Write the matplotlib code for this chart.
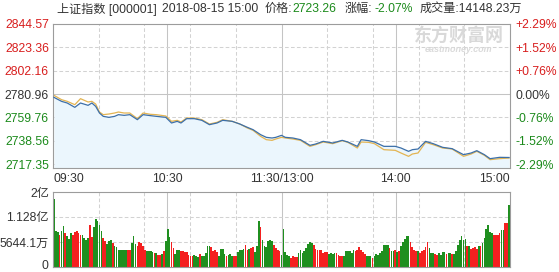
import matplotlib
matplotlib.use("Agg")
import matplotlib.pyplot as plt
import matplotlib.transforms as mtransforms
import numpy as np

# intraday chart, Shanghai Composite 2018-08-15
FONT = ['Liberation Sans', 'Noto Sans CJK SC']
plt.rcParams['font.family'] = FONT

prev_close = 2780.96
last_price = 2723.26
total_volume = '14148.23万'
price_ticks = [2844.57, 2823.36, 2802.16, 2780.96, 2759.76, 2738.56, 2717.35]
time_labels = ['09:30', '10:30', '11:30/13:00', '14:00', '15:00']

# minute index (0 = 09:30, 120 = 11:30/13:00, 240 = 15:00)
line_minutes = [0, 4, 7, 11, 14, 18, 20, 22, 24, 26,
                29, 32, 34, 37, 40, 44, 47, 51, 54, 59,
                62, 65, 67, 70, 74, 78, 82, 86, 89, 94,
                98, 102, 105, 109, 112, 115, 117, 120, 122, 126,
                130, 135, 138, 142, 147, 152, 155, 160, 162, 166,
                169, 174, 180, 183, 187, 189, 192, 196, 200, 205,
                210, 216, 220, 223, 227, 230, 235, 240]
price = [2777.93, 2774.29, 2772.78, 2768.84, 2772.78, 2770.66, 2772.78, 2769.75, 2763.69, 2760.66,
         2759.75, 2760.66, 2762.18, 2761.57, 2762.18, 2757.63, 2762.18, 2761.27, 2760.66, 2759.75,
         2754.61, 2756.12, 2754.61, 2758.54, 2758.54, 2757.03, 2753.09, 2754.61, 2757.03, 2756.12,
         2753.70, 2750.67, 2748.55, 2744.00, 2741.58, 2740.98, 2741.58, 2743.39, 2741.58, 2740.98,
         2739.46, 2734.31, 2735.52, 2737.95, 2736.43, 2738.85, 2737.34, 2733.40, 2739.46, 2738.55,
         2737.34, 2733.40, 2733.40, 2731.89, 2728.86, 2730.37, 2730.98, 2737.95, 2735.83, 2732.49,
         2731.28, 2725.83, 2727.35, 2729.46, 2725.83, 2722.20, 2723.41, 2723.26]
avg_price = [2779.75, 2775.81, 2774.29, 2771.26, 2776.72, 2773.69, 2774.29, 2771.87, 2764.60, 2762.18,
             2762.78, 2763.69, 2764.60, 2763.69, 2763.69, 2758.54, 2763.69, 2762.48, 2762.18, 2760.97,
             2756.12, 2757.03, 2755.51, 2759.15, 2759.15, 2757.63, 2753.70, 2755.21, 2757.63, 2756.12,
             2753.70, 2750.06, 2747.94, 2742.49, 2739.46, 2738.85, 2740.07, 2741.58, 2740.98, 2740.07,
             2738.85, 2733.40, 2734.92, 2737.34, 2735.83, 2738.55, 2737.04, 2731.89, 2737.34, 2737.04,
             2735.83, 2730.37, 2729.77, 2727.35, 2724.32, 2726.43, 2727.35, 2737.04, 2734.92, 2731.89,
             2730.98, 2724.32, 2726.43, 2728.86, 2725.22, 2721.29, 2722.20, 2722.80]

# per-minute volume (万), morning 121 bars, afternoon 120 bars
vol_am = [15361, 8057, 7831, 7304, 8208, 9337, 7681, 7078, 6401, 7681,
          7304, 7831, 8208, 7681, 7304, 7154, 6551, 6175, 6551, 9413,
          6777, 8961, 10919, 10316, 9563, 8208, 6551, 5798, 5196, 5798,
          6175, 5422, 4669, 4443, 3916, 3765, 3765, 3765, 3765, 3765,
          3765,
          5422, 7078, 5196, 4669, 5648, 5422, 4669, 3916, 3539, 3539,
          3539, 3313, 3163, 3163, 2786, 2786, 3012, 3539, 5798, 8584,
          6702, 5648, 4292, 2937, 3916, 3916, 3539, 3539, 3313, 3313,
          2786, 2410, 2410, 2786, 2410, 2259, 2937, 2560, 2560, 3163,
          4669, 4819, 4443, 3539, 3916, 3389, 2410, 4066, 4066, 2937,
          2410, 2786, 2937, 2410, 2560, 2410, 3389, 3916, 3916, 4066,
          4895, 3916, 4066, 4292, 4443, 3313, 4669, 10467, 8961, 6024,
          4669, 4443, 5798, 6175, 5798, 5045, 4292, 3916, 3539, 2786]
vol_pm = [8660, 3389, 2786, 2410, 2033, 2410, 2259, 2184, 3163, 3916,
          3163, 3690, 4292, 5196, 5648, 5422, 5045, 4142, 3765, 3765,
          3765, 3163, 3389, 3313, 2937, 3163, 2937, 3163, 3163, 2636,
          2560, 2560, 2410, 3539, 3690, 3690, 3163, 3765, 3539, 3916,
          4443, 3916, 3313, 3012, 2560, 2560, 2560, 2033, 2410, 2937,
          2786, 3163, 3539, 4895, 4895, 4895, 4292, 3539, 3539, 3916,
          3389, 3539, 4669,
          5648, 6401, 6928, 7078, 5648, 4443, 3916, 3690, 3690, 3163,
          3539, 3916, 4443, 5572, 4292, 3163, 3163, 2937, 2786, 3163,
          2786, 3313, 3389, 3012, 3163, 3163, 2937, 2937, 3539, 4895,
          6175, 6928, 6175, 6401, 4669, 4669, 4066, 4292, 4443, 4066,
          4669, 4819, 5422, 6551, 8584, 9563, 7907, 7681, 7304, 7304,
          7154, 7681, 8283, 8434, 9940, 9940, 14081]
# r = up minute, g = down minute
dir_am = ("gggrggrggg rrrrrggggr rgggggrrgg grgggggggr r "
          "gggrrrrrgg ggrgrrgrgg grrgggrrrr rrrgggrggg ggrrrrgggg "
          "rgggrrgggg rrgrrgggrg gggggrrrrg")
dir_pm = ("ggggrrrrgg ggggggrrrr rrrrggggrr rrggggggrr rrrrgggrgg "
          "ggggggrggr grg "
          "ggggrrrrgr rrrrgggrrg gggrggrggg ggggrgrrrr grggggggrr rrggrrg")

vol_ticks = [0, 5644.1, 11288.2, 16932.3]
vol_tick_labels = ['0', '5644.1万', '1.128亿', '2亿']

RED = '#d81e1e'
GREEN = '#1b8a1b'
TXT = '#333333'
BAR_RED = '#f42020'
BAR_GREEN = '#1f8f1f'

W, H = 559, 272
fig = plt.figure(figsize=(W / 100, H / 100), dpi=100)
ax = fig.add_axes([53 / W, 1 - 168 / H, 457 / W, 144 / H])
axv = fig.add_axes([53 / W, 1 - 267 / H, 457 / W, 75 / H])

xlo, xhi = -0.5, 240.5
dash = (0, (3.5, 2.2))
for a in (ax, axv):
    a.set_xlim(xlo, xhi)
    for k in range(1, 10):
        if k == 5:
            continue
        a.axvline(xlo + k / 10 * (xhi - xlo), color='#d2d2d2', lw=0.75, ls=dash, zorder=0)
    for f in (0.25, 0.5, 0.75):
        a.axvline(xlo + f * (xhi - xlo), color='#c4c4c4', lw=0.75, zorder=0)
    for s in a.spines.values():
        s.set_color('#9c9c9c')
        s.set_linewidth(0.8)

# price panel
ylo = 2713.72
ax.set_ylim(ylo, price_ticks[0])
for v in price_ticks[1:]:
    if v == prev_close:
        ax.axhline(v, color='#c4c4c4', lw=0.75, zorder=0)
    else:
        ax.axhline(v, color='#d2d2d2', lw=0.75, ls=dash, zorder=0)

ax.fill_between(line_minutes, price, ylo, color='#ebf6fd', lw=0, zorder=1)
ax.plot(line_minutes, avg_price, color='#e3b452', lw=0.9, zorder=2)
ax.plot(line_minutes, price, color='#3c6fa8', lw=0.9, zorder=3)


def tick_color(v):
    if v > prev_close:
        return RED
    if v < prev_close:
        return GREEN
    return TXT


ax.set_yticks(price_ticks)
ax.set_yticklabels([f'{v:.2f}' for v in price_ticks])
for lab, v in zip(ax.get_yticklabels(), price_ticks):
    lab.set_color(tick_color(v))
ax.tick_params(axis='y', length=0, pad=3, labelsize=8.7)

ax.set_xticks([xlo + f * (xhi - xlo) for f in (0, 0.25, 0.5, 0.75, 1)])
ax.set_xticklabels(time_labels, color=TXT)
ax.tick_params(axis='x', length=0, pad=3.5, labelsize=8.7)
xl = ax.get_xticklabels()
xl[0].set_ha('left')
xl[-1].set_ha('right')

ax2 = ax.twinx()
ax2.set_ylim(ax.get_ylim())
ax2.set_yticks(price_ticks)
pct = [(v - prev_close) / prev_close * 100 for v in price_ticks]
ax2.set_yticklabels([f'{p:+.2f}%' if abs(p) > 0.005 else '0.00%' for p in pct])
for lab, v in zip(ax2.get_yticklabels(), price_ticks):
    lab.set_color(tick_color(v))
ax2.tick_params(axis='y', length=0, pad=4, labelsize=8.7)
for s in ax2.spines.values():
    s.set_visible(False)

# volume panel
volumes = np.array(vol_am + vol_pm)
dirs = (dir_am + dir_pm).replace(' ', '')
bar_colors = [BAR_RED if d == 'r' else BAR_GREEN for d in dirs]
axv.bar(np.arange(len(volumes)), volumes, width=0.9, color=bar_colors, lw=0, zorder=2)
axv.set_ylim(0, vol_ticks[-1])
for v in vol_ticks[1:-1]:
    axv.axhline(v, color='#d2d2d2', lw=0.75, ls=dash, zorder=0)
axv.set_yticks(vol_ticks)
axv.set_yticklabels(vol_tick_labels, color=TXT)
axv.tick_params(axis='y', length=0, pad=3, labelsize=8.7)
axv.set_xticks([])
# lift the bottom "0" a little so it stays inside the canvas
zero_lab = axv.get_yticklabels()[0]
zero_lab.set_transform(zero_lab.get_transform() +
                       mtransforms.ScaledTranslation(0, 2.5 / 100, fig.dpi_scale_trans))

# header line
chg = (last_price - prev_close) / prev_close * 100
ty = 1 - 9 / H
fig.text(57 / W, ty, '上证指数 [000001]', color=TXT, fontsize=8.7, va='center')
fig.text(162 / W, ty, '2018-08-15 15:00', color=TXT, fontsize=8.7, va='center')
fig.text(265 / W, ty, '价格:', color=TXT, fontsize=8.7, va='center')
fig.text(292 / W, ty, f'{last_price:.2f}', color=GREEN, fontsize=8.7, va='center')
fig.text(345 / W, ty, '涨幅:', color=TXT, fontsize=8.7, va='center')
fig.text(374 / W, ty, f'{chg:.2f}%', color=GREEN, fontsize=8.7, va='center')
fig.text(420 / W, ty, '成交量:' + total_volume, color=TXT, fontsize=8.7, va='center')

# watermark
fig.text(459 / W, 1 - 36 / H, '东方财富网', color='#d9d9d9', fontsize=13,
         fontweight='bold', ha='center', va='center')
fig.text(459 / W, 1 - 50 / H, 'eastmoney.com', color='#dadada', fontsize=6.5,
         fontweight='bold', style='italic', ha='center', va='center')

fig.savefig('out.png', dpi=100)
